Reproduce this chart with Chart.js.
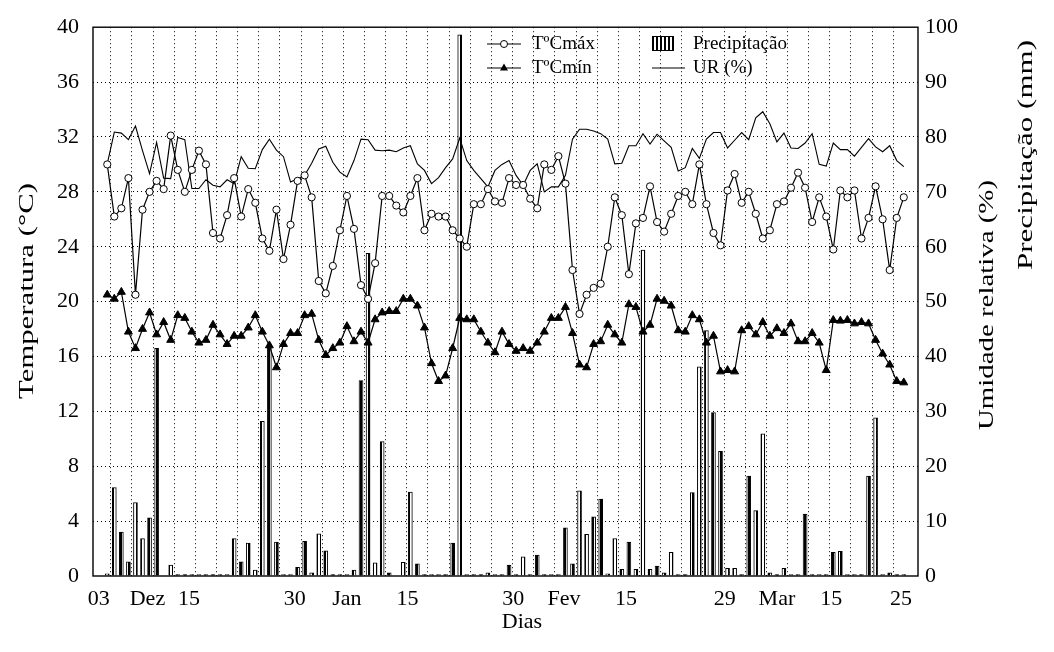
<!DOCTYPE html>
<html>
<head>
<meta charset="utf-8">
<script src="https://cdn.jsdelivr.net/npm/chart.js@4.4.1/dist/chart.umd.min.js"></script>
<style>
  html, body { margin: 0; padding: 0; background: #fff; }
  #wrap { width: 1054px; height: 652px; }
</style>
</head>
<body>
<div id="wrap"><canvas id="c" width="1054" height="652"></canvas></div>
<script>
// dias a partir de 03/Dez (índice 0) até 25/Mar (índice 113)
const tMax = [30.0, 26.2, 26.8, 29.0, 20.5, 26.7, 28.0, 28.8, 28.2, 32.1,
  29.6, 28.0, 29.6, 31.0, 30.0, 25.0, 24.6, 26.3, 29.0, 26.2,
  28.2, 27.2, 24.6, 23.7, 26.7, 23.1, 25.6, 28.8, 29.2, 27.6,
  21.5, 20.6, 22.6, 25.2, 27.7, 25.3, 21.2, 20.2, 22.8, 27.7,
  27.7, 27.0, 26.5, 27.7, 29.0, 25.2, 26.4, 26.2, 26.2, 25.2,
  24.6, 24.0, 27.1, 27.1, 28.2, 27.3, 27.2, 29.0, 28.5, 28.5,
  27.5, 26.8, 30.0, 29.6, 30.6, 28.6, 22.3, 19.1, 20.5, 21.0,
  21.3, 24.0, 27.6, 26.3, 22.0, 25.7, 26.1, 28.4, 25.8, 25.1,
  26.4, 27.7, 28.0, 27.1, 30.0, 27.1, 25.0, 24.1, 28.1, 29.3,
  27.2, 28.0, 26.4, 24.6, 25.2, 27.1, 27.3, 28.3, 29.4, 28.3,
  25.8, 27.6, 26.2, 23.8, 28.1, 27.6, 28.1, 24.6, 26.1, 28.4,
  26.0, 22.3, 26.1, 27.6];

const tMin = [20.5, 20.2, 20.7, 17.8, 16.6, 18.0, 19.2, 17.6, 18.5, 17.2,
  19.0, 18.8, 17.8, 17.0, 17.2, 18.3, 17.6, 16.9, 17.5, 17.5,
  18.1, 19.0, 17.8, 16.8, 15.2, 16.9, 17.7, 17.7, 19.0, 19.1,
  17.2, 16.1, 16.6, 17.0, 18.2, 17.1, 17.8, 17.0, 18.7, 19.2,
  19.3, 19.3, 20.2, 20.2, 19.7, 18.1, 15.5, 14.2, 14.6, 16.6,
  18.8, 18.7, 18.7, 17.8, 17.0, 16.3, 17.8, 16.9, 16.4, 16.6,
  16.4, 17.0, 17.8, 18.8, 18.8, 19.6, 17.7, 15.4, 15.2, 16.9,
  17.1, 18.3, 17.6, 17.0, 19.8, 19.6, 17.8, 18.3, 20.2, 20.05,
  19.7, 17.9, 17.8, 19.0, 18.7, 17.0, 17.5, 14.9, 15.0, 14.9,
  17.9, 18.2, 17.6, 18.5, 17.5, 18.05, 17.7, 18.4, 17.1, 17.1,
  17.7, 17.0, 15.0, 18.65, 18.6, 18.65, 18.4, 18.5, 18.4, 17.2,
  16.2, 15.4, 14.2, 14.1];

const ur = [75.1, 80.9, 80.7, 79.5, 82.0, 77.5, 73.3, 79.0, 72.5, 72.4,
  79.9, 79.5, 70.6, 70.6, 72.2, 71.2, 70.9, 72.2, 71.5, 76.4,
  74.3, 74.2, 77.7, 79.6, 77.6, 76.4, 71.8, 72.4, 73.0, 75.2,
  77.8, 78.3, 75.4, 73.6, 72.7, 75.7, 79.6, 79.5, 77.6, 77.5,
  77.6, 77.3, 78.0, 78.4, 75.1, 73.9, 71.5, 72.6, 74.4, 76.0,
  79.8, 75.7, 73.9, 72.4, 70.9, 73.9, 75.0, 75.7, 73.0, 71.2,
  73.9, 75.1, 70.0, 70.9, 70.9, 73.0, 79.6, 81.4, 81.4, 81.1,
  80.6, 79.6, 75.1, 75.2, 78.4, 78.4, 80.6, 78.7, 80.5, 79.3,
  78.1, 73.8, 74.4, 77.9, 76.1, 79.6, 80.8, 80.8, 78.0, 79.4,
  80.8, 79.5, 83.5, 84.6, 82.4, 79.1, 80.7, 78.0, 77.9, 78.9,
  80.6, 75.0, 74.7, 78.9, 77.7, 77.7, 76.5, 78.1, 79.7, 78.2,
  77.3, 78.4, 75.7, 74.6];

const prec = [0.4, 16.1, 8.0, 2.6, 13.4, 6.8, 10.6, 41.5, 0, 2.0,
  0.25, 0.25, 0.25, 0.25, 0.25, 0.25, 0.25, 0.25, 6.8, 2.6,
  6.0, 1.1, 28.2, 42.3, 6.2, 0.25, 0.25, 1.6, 6.3, 0.6,
  7.7, 4.6, 0.25, 0.25, 0.25, 1.1, 35.6, 58.8, 2.4, 24.5,
  0.6, 0, 2.5, 15.3, 2.2, 0.25, 0.25, 0.25, 0.25, 6.0,
  98.6, 0.25, 0.25, 0.25, 0.6, 0.25, 0.25, 2.0, 0.25, 3.5,
  0.25, 3.8, 0.25, 0.25, 0.25, 8.8, 2.2, 15.5, 7.6, 10.8,
  14.0, 0.4, 6.8, 1.2, 6.2, 1.2, 59.4, 1.2, 1.8, 0.6,
  4.3, 0.25, 0.25, 15.2, 38.1, 44.7, 29.8, 22.7, 1.4, 1.4,
  0.25, 18.2, 11.9, 25.9, 0.6, 0.25, 1.4, 0.25, 0.25, 11.3,
  0.25, 0.25, 0.25, 4.3, 4.5, 0.25, 0.25, 0.25, 18.2, 28.8,
  0.25, 0.6, 0.25, 0.25];

const xTickLabels = ['03', 'Dez', '15', '30', 'Jan', '15', '30', 'Fev', '15', '29', 'Mar', '15', '25'];
const xTickPos = [-1.2, 5.7, 11.6, 26.6, 34, 42.6, 57.6, 64.8, 73.6, 87.6, 95, 102.7, 112.6];

const SERIF = '"Liberation Serif", "Times New Roman", serif';
const tickFont = { family: SERIF, size: 22 };
const GRID = '#000';

// linhas verticais pontilhadas a cada 3 dias
const gridDays = [];
for (let d = 2; d <= 113; d += 3) gridDays.push(d);

const pts = arr => arr.map((v, i) => ({ x: i, y: v }));

function hatchPattern() {
  const c = document.createElement('canvas');
  c.width = 4; c.height = 1;
  const g = c.getContext('2d');
  g.fillStyle = '#fff'; g.fillRect(0, 0, 4, 1);
  g.fillStyle = '#000'; g.fillRect(0, 0, 2, 1);
  return g.createPattern(c, 'repeat');
}
const HATCH = hatchPattern();

function vText(ctx, text, cx, cy, len) {
  ctx.save();
  ctx.translate(cx, cy);
  ctx.rotate(-Math.PI / 2);
  const w = ctx.measureText(text).width;
  ctx.scale(len / w, 1);
  ctx.textAlign = 'center';
  ctx.textBaseline = 'middle';
  ctx.fillText(text, 0, 0);
  ctx.restore();
}

const extras = {
  id: 'extras',
  beforeDraw(chart) {
    const ctx = chart.ctx;
    ctx.save();
    ctx.fillStyle = '#fff';
    ctx.fillRect(0, 0, chart.width, chart.height);
    ctx.restore();
  },
  afterDraw(chart) {
    const { ctx, chartArea: a } = chart;
    ctx.save();
    ctx.strokeStyle = '#000';
    ctx.lineWidth = 1.4;
    ctx.strokeRect(a.left, a.top, a.right - a.left, a.bottom - a.top);

    // títulos dos eixos
    ctx.fillStyle = '#000';
    ctx.font = `20px ${SERIF}`;
    vText(ctx, 'Temperatura (°C)', 28, 291, 216);
    vText(ctx, 'Umidade relativa (%)', 988, 305, 250);
    vText(ctx, 'Precipitação (mm)', 1027, 155, 230);
    ctx.font = `22px ${SERIF}`;
    ctx.textAlign = 'center';
    ctx.textBaseline = 'middle';
    ctx.fillText('Dias', 522, 622);

    // legenda
    ctx.font = `19px ${SERIF}`;
    ctx.textAlign = 'left';
    ctx.lineWidth = 1.2;
    const r1 = 44, r2 = 68;
    ctx.beginPath(); ctx.moveTo(487, r1); ctx.lineTo(521, r1); ctx.stroke();
    ctx.beginPath(); ctx.arc(504, r1, 3.5, 0, Math.PI * 2);
    ctx.fillStyle = '#fff'; ctx.fill(); ctx.lineWidth = 1; ctx.stroke();
    ctx.fillStyle = '#000';
    ctx.fillText('TºCmáx', 532, r1);

    ctx.lineWidth = 1.2;
    ctx.beginPath(); ctx.moveTo(487, r2); ctx.lineTo(521, r2); ctx.stroke();
    ctx.beginPath();
    ctx.moveTo(504, r2 - 4.5); ctx.lineTo(508, r2 + 2.5); ctx.lineTo(500, r2 + 2.5); ctx.closePath();
    ctx.fill();
    ctx.fillText('TºCmín', 532, r2);

    ctx.fillStyle = HATCH;
    ctx.fillRect(652, 36, 22, 15);
    ctx.lineWidth = 1;
    ctx.strokeRect(652.5, 36.5, 21, 14);
    ctx.fillStyle = '#000';
    ctx.fillText('Precipitação', 693, r1);

    ctx.beginPath(); ctx.moveTo(652, r2); ctx.lineTo(685, r2); ctx.stroke();
    ctx.fillText('UR (%)', 693, r2);
    ctx.restore();
  }
};

Chart.defaults.font.family = SERIF;
Chart.defaults.color = '#000';

new Chart(document.getElementById('c'), {
  type: 'line',
  data: {
    datasets: [
      {
        label: 'TºCmáx', data: pts(tMax), yAxisID: 'y',
        borderColor: '#000', borderWidth: 1.2, tension: 0,
        pointStyle: 'circle', pointRadius: 3.6, pointBorderWidth: 1,
        pointBackgroundColor: '#fff', pointBorderColor: '#000', order: 0
      },
      {
        label: 'TºCmín', data: pts(tMin), yAxisID: 'y',
        borderColor: '#000', borderWidth: 1.2, tension: 0,
        pointStyle: 'triangle', pointRadius: 4.6, pointBorderWidth: 1,
        pointBackgroundColor: '#000', pointBorderColor: '#000', order: 1
      },
      {
        label: 'UR (%)', data: pts(ur), yAxisID: 'y2',
        borderColor: '#000', borderWidth: 1.1, tension: 0, pointRadius: 0, order: 2
      },
      {
        type: 'bar', label: 'Precipitação', data: pts(prec), yAxisID: 'y2',
        backgroundColor: HATCH, borderColor: '#000', borderWidth: 1,
        barThickness: 4, order: 3
      }
    ]
  },
  options: {
    responsive: false,
    animation: false,
    devicePixelRatio: 1,
    layout: { padding: { top: 22, left: 0, right: 0, bottom: 0 } },
    plugins: { legend: { display: false }, tooltip: { enabled: false } },
    scales: {
      x: {
        type: 'linear', min: -0.876, max: 113.87,
        afterBuildTicks: s => {
          s.ticks = [
            ...gridDays.map(v => ({ value: v, grid: true })),
            ...xTickPos.map((v, k) => ({ value: v, lab: xTickLabels[k] }))
          ];
        },
        afterFit: s => { s.height = 76; },
        ticks: {
          autoSkip: false, maxRotation: 0, minRotation: 0, padding: 10,
          font: tickFont, color: '#000',
          callback: (v, i, t) => t[i].lab || ''
        },
        grid: { color: c => (c.tick && c.tick.grid) ? GRID : 'rgba(0,0,0,0)', lineWidth: 1, drawTicks: false },
        border: { display: false, dash: [1, 3] }
      },
      y: {
        position: 'left', min: 0, max: 40,
        afterFit: s => { s.width = 93; },
        ticks: { stepSize: 4, padding: 14, font: tickFont, color: '#000' },
        grid: {
          color: c => (c.tick && (c.tick.value === 0 || c.tick.value === 40)) ? 'rgba(0,0,0,0)' : GRID,
          lineWidth: 1, drawTicks: false
        },
        border: { display: false, dash: [1, 3] }
      },
      y2: {
        position: 'right', min: 0, max: 100,
        afterFit: s => { s.width = 136; },
        ticks: { stepSize: 10, padding: 7, font: tickFont, color: '#000' },
        grid: { drawOnChartArea: false, drawTicks: false },
        border: { display: false }
      }
    }
  },
  plugins: [extras]
});
</script>
</body>
</html>
